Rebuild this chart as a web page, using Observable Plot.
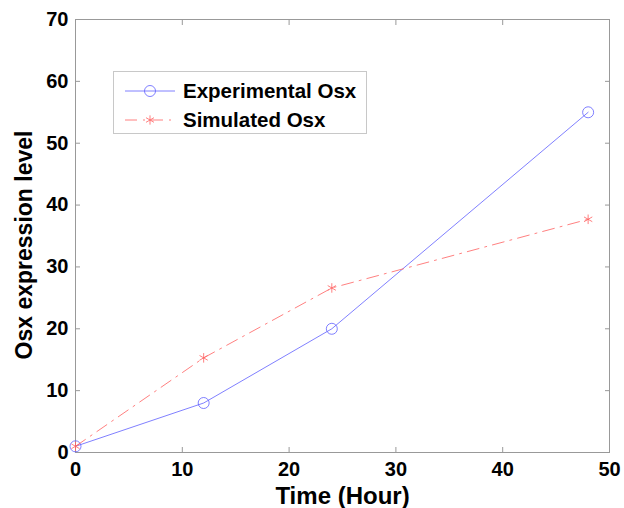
<!DOCTYPE html>
<html><head><meta charset="utf-8">
<script src="https://cdn.jsdelivr.net/npm/d3@7"></script>
<script src="https://cdn.jsdelivr.net/npm/@observablehq/plot@0.6"></script>
<style>
body{margin:0;background:#fff;font-family:"Liberation Sans",Arial,sans-serif;}
#wrap{position:relative;width:624px;height:508px;}
#legend{position:absolute;left:113px;top:71px;width:254px;height:63px;border:1px solid #c8c8c8;background:#fff;box-sizing:border-box;}
.row{position:absolute;left:0;height:24px;display:flex;align-items:center;font-weight:bold;font-size:20.5px;color:#000;}
.row svg{margin-left:11px;margin-right:8px;}
</style>
</head><body>
<div id="wrap"></div>
<script>
const hours = [0, 12, 24, 48];
const experimental = [1, 8, 20, 55];
const simulated = [1, 15.3, 26.6, 37.7];
const xTicks = [0, 10, 20, 30, 40, 50];
const yTicks = [0, 10, 20, 30, 40, 50, 60, 70];
const seriesNames = ["Experimental Osx", "Simulated Osx"];

const exp = hours.map((h, i) => ({h, v: experimental[i]}));
const sim = hours.map((h, i) => ({h, v: simulated[i]}));
const blue = "#6060ff";
const red = "#ff6060";

const chart = Plot.plot({
  width: 624, height: 508,
  marginLeft: 75, marginRight: 15, marginTop: 19, marginBottom: 56,
  style: {fontFamily: "'Liberation Sans', Arial, sans-serif", background: "#fff"},
  x: {domain: [0, 50], ticks: xTicks},
  y: {domain: [0, 70], ticks: yTicks},
  marks: [
    Plot.frame({stroke: "#999", strokeWidth: 1}),
    Plot.axisX({anchor: "bottom", ticks: xTicks, tickSize: -5, tickPadding: 14, fontSize: 20, fontWeight: "bold", fill: "#000", stroke: "#999", label: null, textStroke: "none"}),
    Plot.axisX({anchor: "top", ticks: xTicks, tickSize: -5, tickFormat: () => "", stroke: "#999", label: null}),
    Plot.axisY({anchor: "left", ticks: yTicks, tickSize: -5, tickPadding: 12, fontSize: 20, fontWeight: "bold", fill: "#000", stroke: "#999", label: null}),
    Plot.axisY({anchor: "right", ticks: yTicks, tickSize: -5, tickFormat: () => "", stroke: "#999", label: null}),
    Plot.line(exp, {x: "h", y: "v", stroke: blue, strokeWidth: 0.8}),
    Plot.dot(exp, {x: "h", y: "v", r: 5.5, stroke: blue, strokeWidth: 0.8, fill: "none"}),
    Plot.line(sim, {x: "h", y: "v", stroke: red, strokeWidth: 0.8, strokeDasharray: "12,6,2,6"}),
    Plot.dot(sim, {x: "h", y: "v", r: 4.5, symbol: "asterisk", stroke: red, strokeWidth: 0.8}),
    Plot.text(["Time (Hour)"], {frameAnchor: "bottom", lineAnchor: "middle", dy: 44, fontSize: 24, fontWeight: "bold", fill: "#000"}),
    Plot.text(["Osx expression level"], {frameAnchor: "left", textAnchor: "middle", lineAnchor: "middle", dx: -51, dy: 9, rotate: -90, fontSize: 23, fontWeight: "bold", fill: "#000"})
  ]
});
const wrap = document.getElementById("wrap");
wrap.appendChild(chart);

const legend = document.createElement("div");
legend.id = "legend";
legend.innerHTML = `
<div class="row" style="top:7px"><svg width="50" height="12"><line x1="0" y1="6" x2="50" y2="6" stroke="${blue}" stroke-width="0.8"/><circle cx="25" cy="6" r="5.5" fill="none" stroke="${blue}" stroke-width="0.8"/></svg><span>${seriesNames[0]}</span></div>
<div class="row" style="top:36px"><svg width="50" height="12"><line x1="0" y1="6" x2="50" y2="6" stroke="${red}" stroke-width="0.8" stroke-dasharray="12,6,2,6"/><path transform="translate(25,6)" d="${d3.symbol(d3.symbolAsterisk, 60)()}" fill="none" stroke="${red}" stroke-width="0.8"/></svg><span>${seriesNames[1]}</span></div>`;
wrap.appendChild(legend);
</script>
</body></html>
